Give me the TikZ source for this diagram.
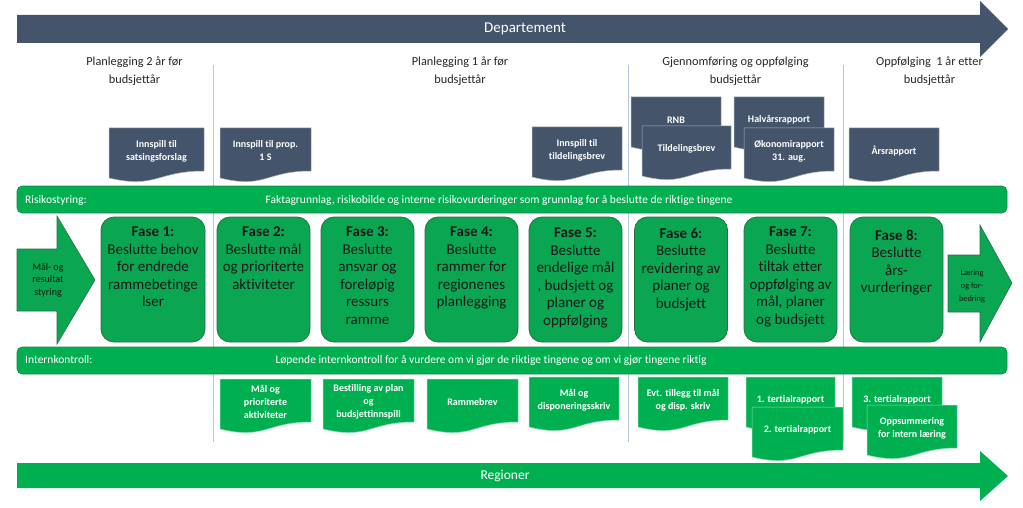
\documentclass[tikz,border=0pt]{standalone}
\usepackage{fontspec}
\setmainfont{Carlito}[Ligatures=NoCommon]
\usepackage{tikz}
\usetikzlibrary{positioning}
\usepackage{xcolor}

\definecolor{deptblue}{HTML}{44546A}
\definecolor{reggreen}{HTML}{00B050}
\definecolor{fasegreen}{HTML}{0AA652}
\definecolor{edgegreen}{HTML}{2B6E46}
\definecolor{sepline}{HTML}{B4C6E0}
\definecolor{headtext}{HTML}{262626}

% document shape with wavy bottom: name, left x, top y, width, fill style, text
\newcommand{\docnode}[6]{%
  \filldraw[#5] (#2,#3) -- (#2+#4,#3) -- (#2+#4,#3+43)
    .. controls (#2+#4/2,#3+43) and (#2+#4/2,#3+61) .. (#2,#3+50) -- cycle;
  \node[doctext] (#1) at (#2+#4/2,#3+23) {#6};
}

\begin{document}
\begin{tikzpicture}[x=1pt, y=-1pt,
    bigarrow/.style={fill=#1},
    bar/.style={fill=reggreen, draw=edgegreen!60!reggreen, line width=0.6pt, rounded corners=5pt},
    bartext/.style={text=white, font=\fontsize{11.5}{13}\selectfont, inner sep=0pt},
    headnote/.style={text=headtext, align=center, font=\fontsize{12.3}{18}\selectfont},
    fasebox/.style={fill=fasegreen, draw=edgegreen, line width=0.8pt, rounded corners=13pt,
      minimum width=93pt, minimum height=125pt, inner sep=0pt},
    fasetext/.style={align=center, text=black!90, font=\fontsize{15}{17.5}\selectfont},
    deptdoc/.style={fill=deptblue, draw=white!55!deptblue, line width=0.5pt},
    regdoc/.style={fill=reggreen, draw=white!55!reggreen, line width=0.5pt},
    doctext/.style={align=center, text=white, font=\fontsize{10}{13}\selectfont, inner sep=0pt},
    sidetext/.style={align=center, text=black!75!edgegreen, inner sep=0pt}]

    \useasboundingbox (0,0) rectangle (1023,508);

    % Phase separators
    \foreach \sx in {213,628,843}
        \draw[sepline, line width=1pt] (\sx,65) -- (\sx,442);

    % Departement arrow
    \fill[bigarrow=deptblue] (17,15) -- (980,15) -- (980,1) -- (1008,29) -- (980,57)
        -- (980,43) -- (17,43) -- cycle;
    \node[text=white, font=\fontsize{15}{18}\selectfont] (dept) at (525,29) {Departement};

    % Period headings
    \node[headnote] (p1) at (134.5,71) {Planlegging 2 år før\\budsjettår};
    \node[headnote] (p2) at (460,71) {Planlegging 1 år før\\budsjettår};
    \node[headnote] (p3) at (735.5,71) {Gjennomføring og oppfølging\\budsjettår};
    \node[headnote] (p4) at (929.5,71) {Oppfølging~~1 år etter\\budsjettår};

    % Departement documents
    \docnode{satsing}{109}{128}{95}{deptdoc}{\textbf{Innspill til}\\\textbf{satsingsforslag}}
    \docnode{prop}{220}{128}{91}{deptdoc}{\textbf{Innspill til prop.}\\\textbf{1 S}}
    \docnode{tildinn}{532}{127}{90}{deptdoc}{\textbf{Innspill til}\\\textbf{tildelingsbrev}}
    \docnode{rnb}{631}{97}{90}{deptdoc}{\textbf{RNB}}
    \docnode{tildbrev}{642}{126}{89}{deptdoc}{\textbf{Tildelingsbrev}}
    \docnode{halvaar}{734}{97}{90}{deptdoc}{\textbf{Halvårsrapport}}
    \docnode{okonomi}{744}{128}{90}{deptdoc}{\textbf{Økonomirapport}\\\textbf{31. aug.}}
    \docnode{aarsrap}{849}{128}{90}{deptdoc}{\textbf{Årsrapport}}

    % Risikostyring
    \draw[bar] (17,186) rectangle (1007,213);
    \node[bartext, anchor=west] (risk) at (25,200) {Risikostyring:};
    \node[bartext] (riskdesc) at (499,200) {Faktagrunnlag, risikobilde og interne risikovurderinger som grunnlag for å beslutte de riktige tingene};

    % In and out arrows
    \filldraw[fill=fasegreen, draw=edgegreen, line width=0.6pt] (17,249) -- (57,249) -- (57,216)
        -- (95,280) -- (57,344) -- (57,311) -- (17,311) -- cycle;
    \node[sidetext, font=\fontsize{10}{12.5}\selectfont] (inn) at (48,280) {Mål- og\\resultat\\styring};
    \filldraw[fill=fasegreen, draw=edgegreen, line width=0.6pt] (948,255) -- (980,255) -- (980,225)
        -- (1012,283) -- (980,342) -- (980,312) -- (948,312) -- cycle;
    \node[sidetext, font=\fontsize{8.3}{13}\selectfont] (ut) at (972,286) {Læring\\og for-\\bedring};

    % Phases
    \node[fasebox, minimum width=104pt] (f1) at (153,279.5) {};
    \node[fasebox] (f2) at (263.5,279.5) {};
    \node[fasebox] (f3) at (367.5,279.5) {};
    \node[fasebox] (f4) at (471.5,279.5) {};
    \node[fasebox] (f5) at (575.5,279.5) {};
    \node[fasebox] (f6) at (681,279.5) {};
    \node[fasebox] (f7) at (790.5,279.5) {};
    \node[fasebox] (f8) at (896.5,279.5) {};

    \node[fasetext, below=7pt of f1.north] (t1) {\textbf{Fase 1:}\\Beslutte behov\\for endrede\\rammebetinge\\lser};
    \node[fasetext, below=7pt of f2.north] (t2) {\textbf{Fase 2:}\\Beslutte mål\\og prioriterte\\aktiviteter};
    \node[fasetext, below=7pt of f3.north] (t3) {\textbf{Fase 3:}\\Beslutte\\ansvar og\\foreløpig\\ressurs\\ramme};
    \node[fasetext, below=7pt of f4.north] (t4) {\textbf{Fase 4:}\\Beslutte\\rammer for\\regionenes\\planlegging};
    \node[fasetext, below=8pt of f5.north] (t5) {\textbf{Fase 5:}\\Beslutte\\endelige mål\\, budsjett og\\planer og\\oppfølging};
    \node[fasetext, below=8pt of f6.north] (t6) {\textbf{Fase 6:}\\Beslutte\\revidering av\\planer og\\budsjett};
    \node[fasetext, below=7pt of f7.north] (t7) {\textbf{Fase 7:}\\Beslutte\\tiltak etter\\oppfølging av\\mål, planer\\og budsjett};
    \node[fasetext, below=10pt of f8.north] (t8) {\textbf{Fase 8:}\\Beslutte\\års-\\vurderinger};

    % Internkontroll
    \draw[bar] (17,347) rectangle (1007,374);
    \node[bartext, anchor=west] (intern) at (25,360) {Internkontroll:};
    \node[bartext] (interndesc) at (491,360) {Løpende internkontroll for å vurdere om vi gjør de riktige tingene og om vi gjør tingene riktig};

    % Region documents
    \docnode{maal}{220}{379}{91}{regdoc}{\textbf{Mål og}\\\textbf{prioriterte}\\\textbf{aktiviteter}}
    \docnode{bestilling}{323}{379}{91}{regdoc}{\textbf{Bestilling av plan}\\\textbf{og}\\\textbf{budsjettinnspill}}
    \docnode{rammebrev}{427}{379}{91}{regdoc}{\textbf{Rammebrev}}
    \docnode{disp}{529}{377}{90}{regdoc}{\textbf{Mål og}\\\textbf{disponeringsskriv}}
    \docnode{tillegg}{638}{377}{90}{regdoc}{\textbf{Evt. tillegg til mål}\\\textbf{og disp. skriv}}
    \docnode{ter1}{746}{377}{89}{regdoc}{\textbf{1. tertialrapport}}
    \docnode{ter2}{752}{407}{91}{regdoc}{\textbf{2. tertialrapport}}
    \docnode{ter3}{852}{377}{90}{regdoc}{\textbf{3. tertialrapport}}
    \docnode{oppsum}{867}{405}{90}{regdoc}{\textbf{Oppsummering}\\\textbf{for intern læring}}

    % Regioner arrow
    \fill[bigarrow=reggreen] (17,463) -- (980,463) -- (980,451) -- (1008,476) -- (980,501)
        -- (980,488) -- (17,488) -- cycle;
    \node[text=white, font=\fontsize{13.5}{16}\selectfont] (reg) at (505,476) {Regioner};

\end{tikzpicture}
\end{document}
